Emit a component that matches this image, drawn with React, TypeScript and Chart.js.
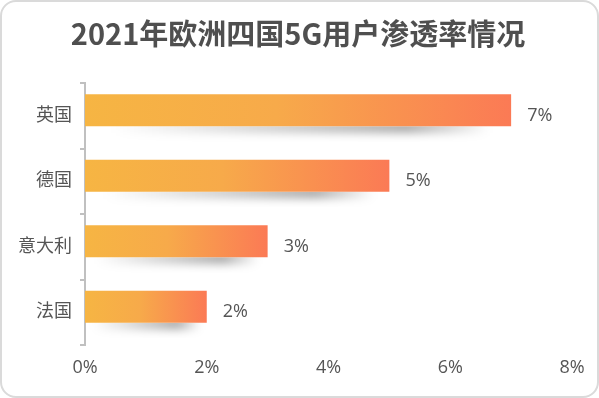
import React, { useEffect, useRef } from "react";
import { Chart, registerables } from "chart.js";

Chart.register(...registerables);

const categories = ["英国", "德国", "意大利", "法国"];
const penetration = [7, 5, 3, 2];
const xMin = 0;
const xMax = 8;
const xStep = 2;
const titleText = "2021年欧洲四国5G用户渗透率情况";

const FONT = "'Open Sans', 'Noto Sans CJK SC', sans-serif";
const TEXT = "#555555";

export default function App() {
  const ref = useRef<HTMLCanvasElement>(null);

  useEffect(() => {
    document.body.style.margin = "0";
    const canvas = ref.current!;

    const titlePlugin = {
      id: "titleText",
      afterDraw(chart: any) {
        const ctx = chart.ctx;
        ctx.save();
        ctx.font = "bold 29px 'Noto Sans CJK SC', 'Open Sans', sans-serif";
        ctx.fillStyle = "#4f4f4f";
        ctx.textAlign = "center";
        ctx.textBaseline = "middle";
        ctx.fillText(titleText, 298, 34);
        ctx.restore();
      },
    };

    const shadowPlugin = {
      id: "barShadow",
      beforeDatasetsDraw(chart: any) {
        const meta = chart.getDatasetMeta(0);
        const ctx = chart.ctx;
        meta.data.forEach((el: any) => {
          const { x, y, base, height } = el.getProps(["x", "y", "base", "height"], true);
          const len = x - base;
          const bottom = y + height / 2;
          ctx.save();
          ctx.beginPath();
          ctx.rect(base, bottom, len + 20, 16);
          ctx.clip();
          const x0 = base + 0.06 * len;
          const x1 = base + 0.95 * len;
          const g = ctx.createLinearGradient(x0, 0, x1, 0);
          g.addColorStop(0, "rgba(0,0,0,0)");
          g.addColorStop(0.78, "rgba(0,0,0,0.32)");
          g.addColorStop(1, "rgba(0,0,0,0)");
          ctx.filter = "blur(4px)";
          ctx.fillStyle = g;
          ctx.fillRect(x0, bottom - 6, x1 - x0, 13);
          ctx.restore();
        });
      },
    };

    const valuePlugin = {
      id: "valueLabels",
      afterDatasetsDraw(chart: any) {
        const meta = chart.getDatasetMeta(0);
        const ys = chart.scales.y;
        const ctx = chart.ctx;
        ctx.save();
        ctx.font = `18px ${FONT}`;
        ctx.fillStyle = TEXT;
        ctx.textAlign = "left";
        ctx.textBaseline = "middle";
        meta.data.forEach((el: any, i: number) => {
          ctx.fillText(`${penetration[i]}%`, el.x + 16, ys.getPixelForValue(i));
        });
        ctx.restore();
      },
    };

    const gradientFill = (c: any) => {
      const chart = c.chart;
      const area = chart.chartArea;
      if (!area || c.type !== "data") return "#f8a04f";
      const xs = chart.scales.x;
      const x0 = xs.getPixelForValue(0);
      const x1 = xs.getPixelForValue(c.raw);
      const g = chart.ctx.createLinearGradient(x0, 0, x1, 0);
      g.addColorStop(0, "#f6b543");
      g.addColorStop(0.45, "#f7aa4a");
      g.addColorStop(1, "#fb7a55");
      return g;
    };

    const chart = new Chart(canvas, {
      type: "bar",
      data: {
        labels: categories,
        datasets: [
          {
            label: "渗透率",
            data: penetration,
            backgroundColor: gradientFill,
            categoryPercentage: 0.336,
            barPercentage: 2.91,
          },
          {
            label: "shadow",
            data: penetration,
            backgroundColor: "rgba(0,0,0,0)",
            categoryPercentage: 0.336,
            barPercentage: 2.91,
          },
        ],
      },
      options: {
        indexAxis: "y",
        responsive: false,
        animation: false,
        layout: { padding: { top: 83, right: 27, bottom: 0, left: 0 } },
        plugins: {
          legend: { display: false },
          tooltip: { enabled: false },
          title: { display: false },
        },
        scales: {
          y: {
            grid: {
              display: true,
              drawOnChartArea: false,
              drawTicks: true,
              tickLength: 5,
              color: "#c0c0c0",
              lineWidth: 2,
              offset: true,
            },
            border: { display: true, color: "#c0c0c0", width: 2 },
            ticks: { font: { size: 18, family: FONT }, color: TEXT, padding: 8 },
            afterFit: (s: any) => {
              s.width = 85;
            },
          },
          x: {
            min: xMin,
            max: xMax,
            grid: { display: false, drawTicks: false },
            border: { display: false },
            ticks: {
              stepSize: xStep,
              callback: (v: any) => `${v}%`,
              font: { size: 18, family: FONT },
              color: TEXT,
              padding: 12,
            },
            afterFit: (s: any) => {
              s.height = 53;
            },
          },
        },
      },
      plugins: [shadowPlugin, valuePlugin, titlePlugin],
    });

    return () => chart.destroy();
  }, []);

  return (
    <div style={{ position: "relative", width: 599, height: 398, background: "#fff" }}>
      <div
        style={{
          position: "absolute",
          left: 0,
          top: 0,
          width: 599,
          height: 398,
          boxSizing: "border-box",
          border: "2px solid #dadada",
          borderRadius: 16,
        }}
      />
      <canvas
        ref={ref}
        width={599}
        height={398}
        style={{ position: "absolute", left: 0, top: 0, width: 599, height: 398 }}
      />
    </div>
  );
}
